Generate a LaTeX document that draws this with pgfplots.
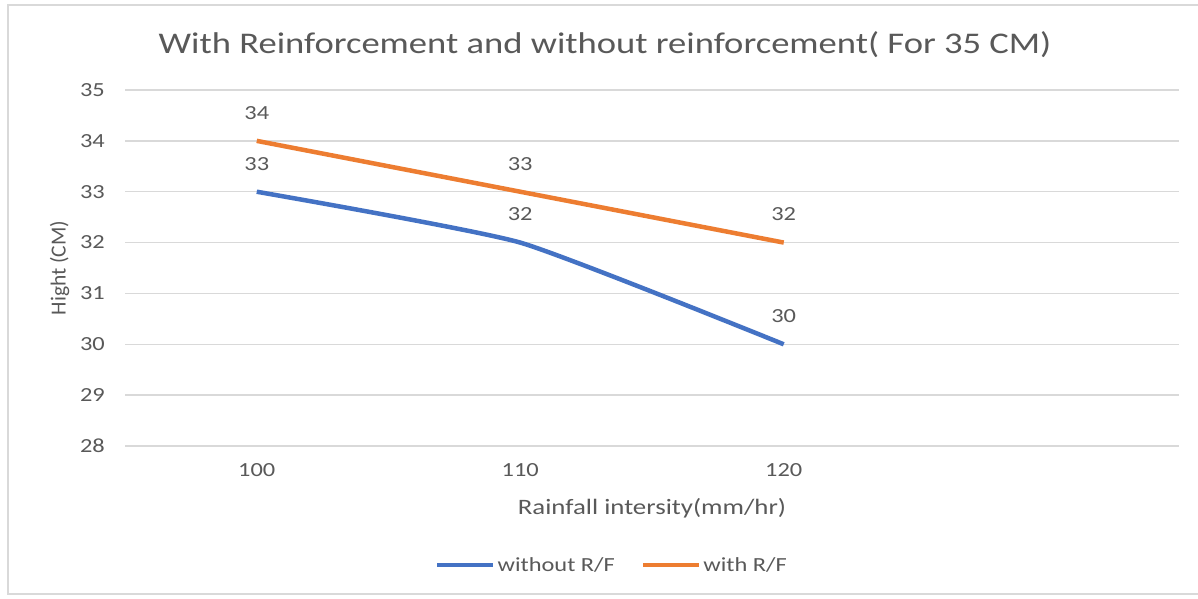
\documentclass[border=0pt]{standalone}
\usepackage{pgfplots}
\pgfplotsset{compat=1.18}
\usepackage{fontspec}
\setmainfont[FakeStretch=1.22]{Carlito}
\newfontfamily\plainfont{Carlito}
\definecolor{xlblue}{HTML}{4472C4}
\definecolor{xlorange}{HTML}{ED7D31}
\definecolor{txtgray}{HTML}{595959}
\definecolor{gridgray}{HTML}{D9D9D9}
\newcommand\fs[1]{\fontsize{#1}{1.2\dimexpr#1pt\relax}\selectfont}

\begin{document}
\begin{tikzpicture}[x=1pt,y=1pt]
\useasboundingbox (0,0) rectangle (1198,598);
\fill[white] (0,0) rectangle (1198,598);
\draw[gridgray, line width=1.2pt] (8,4) rectangle (1215,593);
\node[text=txtgray, font=\fs{30}] at (605,553) {With Reinforcement and without reinforcement( For 35 CM)};
\begin{axis}[
  at={(125pt,152pt)}, anchor=south west,
  scale only axis, width=1054pt, height=356pt,
  xmin=0.5, xmax=4.5, ymin=28, ymax=35,
  xtick={1,2,3}, xticklabels={100,110,120},
  ytick={28,29,...,35},
  ymajorgrids, major grid style={gridgray, line width=1.5pt},
  axis line style={draw=none},
  tick style={draw=none},
  /pgf/number format/assume math mode=true,
  ticklabel style={text=txtgray, font=\fs{20}},
  xticklabel style={anchor=center, yshift=-24pt},
  yticklabel style={anchor=east, inner sep=0pt, xshift=-20pt},
  xlabel={Rainfall intersity(mm/hr)},
  ylabel={Hight (CM)},
  label style={text=txtgray},
  xlabel style={font=\fs{22}, at={(axis description cs:0.5,-0.174)}, anchor=center},
  ylabel style={font=\plainfont\fs{21.5}, at={(axis description cs:-0.062,0.5)}, anchor=center, rotate=0},
  nodes near coords,
  every node near coord/.append style={anchor=center, yshift=28pt, text=txtgray, font=\fs{20}},
  legend columns=2,
  legend style={at={(0.462,-0.334)}, anchor=center, draw=none, fill=none,
    font=\fs{20}, text=txtgray,
    /tikz/every even column/.append style={column sep=24pt},
    /tikz/every odd column/.append style={column sep=0pt}},
  legend image code/.code={\draw[#1, line width=4.5pt] (0pt,0pt) -- (56pt,0pt);},
]
\addplot[xlblue, line width=4.5pt, smooth, tension=0.3] coordinates {(1,33) (2,32) (3,30)};
\addlegendentry{without R/F}
\addplot[xlorange, line width=4.5pt, smooth, tension=0.3] coordinates {(1,34) (2,33) (3,32)};
\addlegendentry{with R/F}
\end{axis}
\end{tikzpicture}
\end{document}
